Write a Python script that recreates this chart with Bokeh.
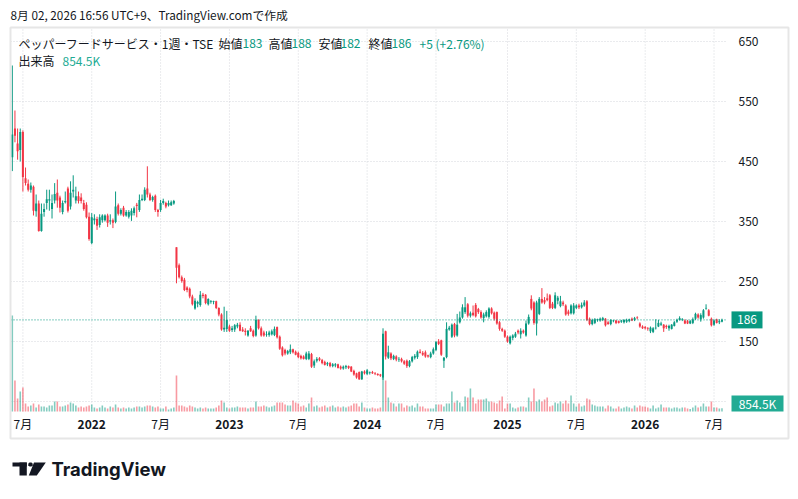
import pandas as pd
from bokeh.plotting import figure
from bokeh.models import (Range1d, FixedTicker, Label, BoxAnnotation,
                          PolyAnnotation, ColumnDataSource, LinearAxis)
from bokeh.embed import file_html
from bokeh.resources import INLINE

# ---------------- data (weekly bars) ----------------
first_week = "2021-06-07"

opens = [
    457, 505, 480, 469, 499, 422, 413, 403, 408, 367,
    380, 334, 366, 381, 385, 371, 385, 398, 390, 366,
    382, 405, 375, 400, 385, 392, 390, 381, 378, 358,
    314, 352, 354, 344, 352, 352, 360, 350, 352, 349,
    377, 363, 373, 360, 358, 360, 364, 378, 369, 386,
    386, 405, 395, 386, 393, 369, 369, 381, 381, 377,
    377, 380, 307, 277, 257, 253, 240, 238, 225, 205,
    213, 211, 228, 228, 212, 216, 216, 217, 206, 195,
    170, 171, 175, 169, 170, 175, 178, 170, 168, 160,
    172, 168, 160, 186, 172, 165, 161, 161, 162, 161,
    174, 158, 140, 136, 130, 132, 137, 133, 131, 126,
    125, 121, 121, 129, 110, 118, 122, 119, 116, 112,
    114, 109, 110, 112, 108, 105, 107, 109, 108, 101,
    97, 99, 87, 100, 96, 98, 99, 97, 96, 95,
    90, 167, 123, 130, 121, 125, 120, 121, 117, 118,
    109, 117, 123, 124, 133, 131, 132, 127, 124, 130,
    136, 150, 152, 118, 124, 170, 158, 179, 160, 182,
    190, 199, 212, 193, 198, 211, 204, 199, 189, 192,
    191, 205, 198, 199, 182, 171, 168, 158, 147, 156,
    158, 168, 162, 168, 160, 180, 221, 215, 180, 196,
    221, 219, 222, 227, 213, 206, 218, 209, 215, 210,
    200, 197, 197, 206, 210, 207, 210, 217, 188, 179,
    181, 186, 185, 186, 188, 182, 179, 184, 185, 184,
    183, 182, 183, 184, 188, 186, 190, 180, 175, 174,
    172, 167, 166, 172, 175, 178, 178, 176, 172, 171,
    176, 183, 186, 186, 185, 184, 180, 181, 188, 195,
    187, 190, 205, 202, 188, 178, 187, 182, 183,
]
highs = [
    610, 535, 505, 505, 502, 440, 420, 415, 410, 395,
    385, 380, 380, 403, 403, 395, 414, 420, 393, 385,
    400, 408, 417, 427, 408, 400, 397, 386, 382, 365,
    364, 362, 358, 362, 362, 362, 363, 362, 355, 400,
    380, 372, 376, 369, 369, 372, 375, 381, 395, 395,
    407, 442, 398, 393, 395, 371, 386, 388, 383, 385,
    385, 386, 307, 280, 260, 256, 242, 240, 228, 222,
    218, 234, 231, 229, 222, 219, 218, 218, 207, 197,
    208, 201, 178, 176, 179, 181, 182, 174, 172, 169,
    176, 170, 193, 187, 175, 168, 167, 168, 170, 175,
    175, 160, 142, 138, 136, 145, 138, 135, 133, 128,
    127, 133, 134, 131, 120, 124, 124, 121, 118, 116,
    116, 114, 114, 113, 110, 110, 111, 110, 109, 103,
    98, 100, 101, 102, 104, 100, 101, 99, 97, 96,
    172, 168, 143, 132, 128, 127, 124, 123, 119, 120,
    119, 126, 129, 135, 137, 134, 135, 128, 133, 140,
    151, 154, 153, 124, 182, 176, 180, 181, 196, 200,
    212, 224, 214, 200, 210, 214, 206, 202, 198, 202,
    207, 207, 200, 200, 184, 173, 170, 160, 160, 162,
    166, 170, 172, 170, 185, 195, 227, 217, 218, 224,
    239, 224, 230, 229, 216, 232, 226, 226, 218, 212,
    203, 212, 214, 212, 213, 215, 219, 219, 190, 188,
    189, 188, 190, 191, 189, 184, 187, 186, 186, 185,
    186, 187, 188, 188, 190, 191, 192, 182, 177, 176,
    174, 175, 174, 187, 186, 183, 179, 178, 178, 179,
    184, 188, 192, 189, 187, 186, 186, 190, 198, 197,
    197, 204, 212, 204, 190, 187, 188, 187, 188,
]
lows = [
    434, 482, 453, 450, 400, 410, 400, 398, 360, 358,
    333, 333, 358, 370, 368, 355, 380, 373, 365, 362,
    380, 365, 370, 390, 380, 380, 380, 368, 355, 318,
    312, 345, 336, 340, 348, 350, 341, 345, 339, 347,
    360, 360, 358, 358, 355, 351, 360, 357, 366, 384,
    384, 390, 384, 383, 366, 358, 366, 378, 372, 375,
    376, 378, 247, 255, 248, 234, 232, 222, 210, 203,
    207, 208, 222, 212, 210, 213, 212, 204, 192, 168,
    166, 166, 166, 166, 166, 172, 167, 166, 160, 158,
    166, 157, 158, 170, 158, 158, 158, 158, 160, 159,
    155, 136, 125, 127, 128, 129, 130, 127, 122, 120,
    120, 119, 119, 106, 106, 115, 117, 112, 110, 109,
    107, 107, 107, 105, 103, 103, 104, 104, 99, 93,
    88, 86, 86, 95, 94, 95, 96, 94, 93, 91,
    86, 120, 121, 119, 119, 117, 116, 115, 111, 106,
    107, 115, 120, 121, 130, 126, 123, 123, 122, 128,
    134, 144, 126, 106, 122, 168, 156, 157, 158, 180,
    188, 196, 190, 190, 192, 190, 196, 188, 182, 190,
    188, 195, 185, 178, 168, 166, 156, 148, 145, 152,
    156, 162, 155, 163, 158, 178, 202, 178, 160, 194,
    213, 212, 217, 204, 204, 204, 212, 207, 209, 193,
    193, 195, 195, 204, 204, 205, 208, 184, 177, 177,
    179, 183, 183, 184, 175, 178, 177, 182, 179, 180,
    181, 180, 181, 182, 184, 184, 187, 173, 171, 170,
    168, 164, 164, 170, 174, 176, 166, 171, 168, 170,
    175, 181, 185, 184, 179, 179, 179, 179, 186, 188,
    183, 188, 203, 192, 175, 176, 180, 179, 182,
]
closes = [
    495, 493, 467, 499, 424, 414, 403, 410, 368, 380,
    334, 363, 371, 387, 387, 381, 396, 385, 373, 381,
    384, 368, 398, 403, 392, 384, 384, 371, 357, 321,
    357, 355, 343, 357, 360, 360, 348, 352, 348, 375,
    363, 369, 360, 366, 366, 368, 372, 376, 386, 388,
    403, 395, 386, 391, 369, 366, 381, 384, 375, 381,
    382, 384, 273, 257, 251, 236, 236, 225, 212, 218,
    216, 228, 226, 214, 221, 217, 217, 206, 195, 170,
    173, 186, 168, 172, 177, 178, 168, 167, 166, 168,
    167, 159, 186, 172, 160, 160, 162, 165, 167, 171,
    157, 138, 127, 130, 134, 137, 132, 128, 124, 122,
    121, 130, 130, 108, 117, 121, 119, 114, 111, 114,
    109, 112, 112, 106, 105, 108, 109, 106, 100, 95,
    90, 87, 100, 97, 102, 99, 97, 96, 94, 93,
    163, 125, 132, 122, 126, 120, 121, 117, 113, 109,
    117, 124, 126, 133, 131, 128, 125, 125, 130, 137,
    149, 146, 128, 123, 171, 173, 178, 160, 178, 190,
    207, 207, 193, 197, 194, 192, 199, 190, 195, 199,
    205, 197, 188, 180, 171, 168, 158, 150, 158, 160,
    163, 165, 168, 165, 180, 191, 205, 181, 215, 221,
    215, 215, 219, 206, 206, 227, 223, 217, 212, 195,
    196, 210, 210, 210, 207, 211, 215, 186, 179, 186,
    187, 187, 188, 189, 177, 179, 186, 185, 181, 181,
    185, 186, 186, 187, 185, 189, 189, 175, 172, 172,
    171, 173, 172, 173, 181, 180, 172, 174, 176, 178,
    182, 186, 189, 187, 180, 180, 184, 187, 196, 190,
    194, 202, 206, 193, 177, 185, 181, 184, 186,
]
volumes_k = [
    24960, 8060, 3380, 5200, 6240, 2080, 1300, 1560, 2080, 1040,
    1820, 1300, 1300, 1040, 1560, 1560, 2600, 2600, 1300, 1300,
    1560, 1820, 2340, 2080, 1560, 1040, 1300, 1040, 1300, 1560,
    1820, 1040, 780, 1040, 1560, 1040, 780, 1300, 1040, 1820,
    1040, 780, 1040, 780, 1040, 780, 1040, 1300, 1300, 1040,
    1300, 1560, 1560, 1300, 1040, 1300, 780, 780, 1300, 520,
    780, 1040, 9360, 1560, 1560, 1300, 1040, 1560, 1300, 1040,
    780, 1040, 780, 1040, 780, 780, 780, 1040, 1560, 2860,
    2340, 1040, 780, 1040, 1040, 1300, 1040, 1040, 1040, 780,
    1040, 1040, 2600, 1300, 1300, 1560, 1300, 1040, 1300, 1560,
    2340, 2340, 2340, 1820, 1560, 1560, 2860, 2340, 2080, 1300,
    1560, 1040, 2080, 3640, 1300, 1560, 1040, 1300, 1560, 1040,
    1300, 1560, 1040, 1300, 1040, 1300, 1040, 1300, 1560, 2080,
    2080, 1300, 2340, 1040, 780, 780, 1040, 780, 780, 1040,
    10400, 8060, 3640, 2340, 2080, 1300, 2080, 2080, 1040, 1560,
    1300, 1560, 1040, 2080, 1300, 1300, 780, 780, 780, 780,
    1820, 1820, 1820, 1300, 2080, 2080, 5200, 2340, 2860, 2340,
    1300, 3900, 3640, 5980, 3640, 2080, 3120, 3120, 3120, 3380,
    2600, 2600, 2340, 2080, 2860, 3900, 780, 2080, 2080, 1040,
    780, 1040, 1300, 1300, 1040, 3640, 2600, 5980, 2600, 3120,
    2600, 3120, 3640, 1300, 1560, 2340, 2080, 2600, 2080, 2860,
    2080, 4160, 2080, 1300, 2080, 1300, 1560, 3380, 3120, 1820,
    1560, 1300, 1300, 1300, 780, 1560, 1300, 780, 780, 1300,
    780, 1040, 1300, 1040, 780, 1560, 1040, 1560, 1300, 1300,
    1040, 780, 1560, 780, 1040, 1820, 1040, 1040, 1040, 780,
    1040, 1040, 780, 1040, 1040, 780, 650, 1040, 1560, 1040,
    1300, 2080, 1300, 1300, 2600, 1040, 1040, 780, 854.5,
]

price_ticks = [150, 250, 350, 450, 550, 650]
grid_prices = [50, 150, 250, 350, 450, 550, 650]
month_label = "7月"
header_text = "8月 02, 2026 16:56 UTC+9、TradingView.comで作成"
symbol_text = "ペッパーフードサービス・1週・TSE"
ohlc_names = ["始値", "高値", "安値", "終値"]
ohlc_values = ["183", "188", "182", "186"]
change_text = "+5 (+2.76%)"
last_price = 186
volume_name = "出来高"
volume_text = "854.5K"
brand_text = "TradingView"

# ---------------- style / layout (pixels of the 798x499 page) ----------------
UP = "#089981"
DOWN = "#f23645"
INK = "#131722"
GRID = "#d5d7dc"
VOL_TAG = "#22ab94"
FRAME_LINE = "#e6e6e6"
JP = "Noto Sans CJK JP"

W, H = 798, 499
BAR0_PX = 11.8          # x pixel of the first weekly bar
PX_PER_WEEK = 2.648
PRICE_REF, PRICE_REF_PX = 150, 341
PX_PER_PRICE = 0.6
VOL_BASE_PX = 411
VOLK_PER_PX = 260.0
CHART_L, CHART_R, CHART_T, CHART_B = 10, 727, 27, 411


def xd(px):          # page x pixel -> bar index coordinate
    return (px - BAR0_PX) / PX_PER_WEEK


def yd(py):          # page y pixel -> price
    return PRICE_REF + (PRICE_REF_PX - py) / PX_PER_PRICE


def sy(py):          # page y pixel -> screen units (from bottom)
    return H - py


n = len(closes)
dates = pd.date_range(first_week, periods=n, freq="7D")
idx = list(range(n))
colors = [UP if c >= o else DOWN for o, c in zip(opens, closes)]
src = ColumnDataSource(dict(
    x=idx, h=highs, l=lows,
    top=[max(o, c) for o, c in zip(opens, closes)],
    bottom=[min(o, c) for o, c in zip(opens, closes)],
    vol=volumes_k, color=colors,
))


def first_of_month(m):
    return [i for i in idx if dates[i].month == m and (i == 0 or dates[i - 1].month != m)]


jan_ticks = first_of_month(1)
jul_ticks = first_of_month(7)
all_ticks = sorted(jan_ticks + jul_ticks)

p = figure(width=W, height=H, output_backend="svg", toolbar_location=None,
           x_range=Range1d(xd(0), xd(W)), y_range=Range1d(yd(H), yd(0)),
           x_axis_location=None, y_axis_location=None,
           min_border_left=0, min_border_right=0, min_border_top=0,
           min_border_bottom=0, outline_line_color=None,
           background_fill_color="white", border_fill_color="white")
p.extra_y_ranges = {"vol": Range1d((VOL_BASE_PX - H) * VOLK_PER_PX,
                                   VOL_BASE_PX * VOLK_PER_PX)}
for g in p.grid:
    g.visible = False

# grid lines (dotted), limited to the chart pane
gx0, gx1 = xd(CHART_L), xd(CHART_R)
gy0, gy1 = yd(CHART_B), yd(CHART_T)
p.segment(x0=[gx0] * len(grid_prices), x1=[gx1] * len(grid_prices),
          y0=grid_prices, y1=grid_prices, line_color=GRID, line_dash="1 2",
          line_width=1)
p.segment(x0=all_ticks, x1=all_ticks, y0=[gy0] * len(all_ticks),
          y1=[gy1] * len(all_ticks), line_color=GRID, line_dash="1 2",
          line_width=1)

# axes pinned inside the canvas
xa = LinearAxis(fixed_location=gy0, ticker=FixedTicker(ticks=jul_ticks),
                major_label_overrides={i: month_label for i in jul_ticks})
ya = LinearAxis(fixed_location=gx1, ticker=FixedTicker(ticks=price_ticks))
for ax, standoff in ((xa, 3), (ya, 11)):
    ax.axis_line_color = None
    ax.major_tick_line_color = None
    ax.minor_tick_line_color = None
    ax.major_tick_out = 0
    ax.major_tick_in = 0
    ax.major_label_standoff = standoff
    ax.major_label_text_font = JP
    ax.major_label_text_font_size = "12px"
    ax.major_label_text_color = INK
p.add_layout(xa, "below")
p.add_layout(ya, "right")

# volume, wicks, bodies
p.vbar(x="x", width=0.6, top="vol", bottom=0, y_range_name="vol",
       fill_color="color", fill_alpha=0.5, line_color=None, source=src)
p.segment(x0="x", y0="l", x1="x", y1="h", line_color="color",
          line_width=1, source=src)
p.vbar(x="x", width=0.76, top="top", bottom="bottom", fill_color="color",
       line_color=None, source=src)

# last-price dotted line
p.segment(x0=[gx0], x1=[gx1], y0=[last_price], y1=[last_price],
          line_color=UP, line_dash="1 2", line_width=1)


def label(text, x, y, color=INK, size="12px", align="left", font=JP,
          style="normal", x_units="screen"):
    p.add_layout(Label(x=x, y=y, x_units=x_units, y_units="screen",
                       text=text, text_color=color, text_font=font,
                       text_font_size=size, text_font_style=style,
                       text_align=align, text_baseline="middle"))


def box(l_, r_, t_, b_, color, alpha=1.0, line=None, lw=1):
    p.add_layout(BoxAnnotation(left=l_, right=r_, top=sy(t_), bottom=sy(b_),
                               left_units="screen", right_units="screen",
                               top_units="screen", bottom_units="screen",
                               fill_color=color, fill_alpha=alpha,
                               line_color=line, line_alpha=1.0,
                               line_width=lw))


# outer snapshot border
box(10, 788, 27, 438, "white", alpha=0, line=FRAME_LINE, lw=2)

# header
label(header_text, 10, sy(14), size="11.75px")

# legend
label(symbol_text, 18, sy(43))
for nm, vv, nx, vx in zip(ohlc_names, ohlc_values,
                          [218, 268, 318, 368], [242, 291, 340, 391]):
    label(nm, nx, sy(43))
    label(vv, vx, sy(43), color=UP)
label(change_text, 419, sy(43), color=UP)
label(volume_name, 18, sy(60))
label(volume_text, 62, sy(60), color=VOL_TAG)

# year labels under the January grid lines
for i in jan_ticks:
    label(str(dates[i].year), i, sy(424), style="bold", align="center",
          x_units="data")

# last price tag
price_py = PRICE_REF_PX - (last_price - PRICE_REF) * PX_PER_PRICE
box(731, 762, price_py - 8.5, price_py + 8.5, UP)
label(str(last_price), 746.5, sy(price_py), color="white", align="center")

# last volume tag
box(731, 783, 395, 411, VOL_TAG)
label(volume_text, 757, sy(403), color="white", align="center")

# TradingView logo
box(12, 26.3, 462, 466, INK)
box(19, 26.3, 462, 475, INK)
p.add_layout(PolyAnnotation(xs=[29, 31, 32.2, 32.2, 31, 29, 27.8, 27.8],
                            ys=[sy(462), sy(462), sy(463.2), sy(464.8),
                                sy(466), sy(466), sy(464.8), sy(463.2)],
                            xs_units="screen", ys_units="screen",
                            fill_color=INK, fill_alpha=1, line_color=None))
p.add_layout(PolyAnnotation(xs=[33.5, 45.3, 36.3, 28.3],
                            ys=[sy(462), sy(462), sy(475), sy(475)],
                            xs_units="screen", ys_units="screen",
                            fill_color=INK, fill_alpha=1, line_color=None))
label(brand_text, 51, sy(468.5), size="18.5px", font="Inter", style="bold")

open("out.html", "w").write(file_html(p, INLINE))
